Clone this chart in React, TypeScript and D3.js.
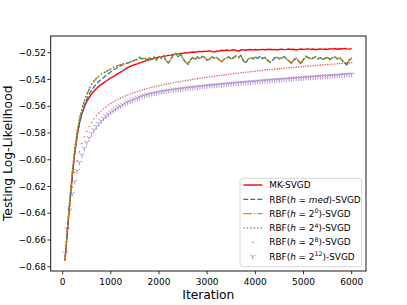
import React from "react";
import * as d3 from "d3";

// iteration grid (every 50 steps)
const iterations = d3.range(50, 6001, 50);

const mkSvgd = [
  -0.6755, -0.653, -0.632, -0.613, -0.595, -0.582, -0.5725, -0.5655, -0.5605, -0.5565,
  -0.5535, -0.5508, -0.5488, -0.5468, -0.5452, -0.5437, -0.5425, -0.5413, -0.540, -0.5388,
  -0.5378, -0.5368, -0.5357, -0.5345, -0.5335, -0.5322, -0.5312, -0.5303, -0.5295, -0.5288,
  -0.5284, -0.5276, -0.527, -0.5263, -0.5258, -0.5253, -0.5247, -0.5242, -0.5238, -0.5234,
  -0.5231, -0.5226, -0.5224, -0.522, -0.5218, -0.5213, -0.5211, -0.5209, -0.5206, -0.5205,
  -0.52, -0.5201, -0.5197, -0.5195, -0.5196, -0.5192, -0.519, -0.5193, -0.5188, -0.519,
  -0.5185, -0.5192, -0.5195, -0.5186, -0.5188, -0.5182, -0.5185, -0.518, -0.5183, -0.5181,
  -0.5178, -0.5182, -0.5189, -0.518, -0.5177, -0.5181, -0.5178, -0.5176, -0.5179, -0.5176,
  -0.518, -0.5177, -0.5175, -0.5178, -0.5176, -0.5174, -0.5178, -0.5175, -0.518, -0.5176,
  -0.5173, -0.5177, -0.5175, -0.5172, -0.5176, -0.5174, -0.5179, -0.5175, -0.5172, -0.5176,
  -0.5173, -0.5171, -0.5175, -0.5172, -0.5178, -0.5174, -0.5171, -0.5175, -0.5172, -0.5176,
  -0.517, -0.5173, -0.5169, -0.5174, -0.517, -0.5172, -0.5168, -0.5171, -0.5173, -0.517,
];

const rbfMed = [
  -0.675, -0.652, -0.631, -0.612, -0.595, -0.583, -0.573, -0.566, -0.56, -0.555,
  -0.551, -0.548, -0.5455, -0.5435, -0.5415, -0.54, -0.5385, -0.537, -0.5355, -0.5342,
  -0.533, -0.532, -0.531, -0.5298, -0.529, -0.5283, -0.5277, -0.527, -0.5262, -0.5255,
  -0.5248, -0.5236, -0.5247, -0.5238, -0.5257, -0.5236, -0.525, -0.523, -0.5254, -0.5228,
  -0.5242, -0.5223, -0.5264, -0.5277, -0.5243, -0.5213, -0.5203, -0.5232, -0.521, -0.5247,
  -0.5272, -0.5288, -0.5253, -0.5236, -0.5252, -0.523, -0.5247, -0.5226, -0.5234, -0.5257,
  -0.525, -0.523, -0.5242, -0.5234, -0.5254, -0.527, -0.5248, -0.5238, -0.523, -0.525,
  -0.5236, -0.5223, -0.5237, -0.522, -0.526, -0.5278, -0.5248, -0.5236, -0.5247, -0.523,
  -0.5242, -0.5228, -0.5244, -0.5234, -0.5257, -0.5272, -0.5264, -0.5238, -0.523, -0.5247,
  -0.5236, -0.5228, -0.525, -0.5264, -0.528, -0.5253, -0.524, -0.5267, -0.5283, -0.5248,
  -0.5226, -0.5237, -0.525, -0.5238, -0.523, -0.5247, -0.5236, -0.5252, -0.524, -0.5233,
  -0.525, -0.5238, -0.523, -0.5247, -0.5236, -0.5257, -0.5276, -0.5292, -0.5253, -0.5238,
];

const rbf2p0 = [
  -0.6755, -0.6515, -0.6295, -0.6095, -0.5925, -0.5795, -0.5695, -0.5625, -0.5565, -0.5515,
  -0.5475, -0.544, -0.5415, -0.5393, -0.5378, -0.5363, -0.5352, -0.5342, -0.5332, -0.5323,
  -0.5312, -0.5304, -0.5297, -0.529, -0.5285, -0.528, -0.5275, -0.527, -0.5262, -0.5255,
  -0.5252, -0.5238, -0.5243, -0.5242, -0.5253, -0.524, -0.5246, -0.5235, -0.525, -0.5232,
  -0.5238, -0.5228, -0.526, -0.5272, -0.5248, -0.5218, -0.5208, -0.5228, -0.5215, -0.5243,
  -0.5267, -0.5282, -0.5257, -0.524, -0.5248, -0.5235, -0.5243, -0.523, -0.5238, -0.5252,
  -0.5246, -0.5234, -0.5238, -0.5238, -0.525, -0.5265, -0.5252, -0.5242, -0.5234, -0.5246,
  -0.524, -0.5228, -0.5233, -0.5225, -0.5255, -0.5272, -0.5252, -0.524, -0.5243, -0.5234,
  -0.5238, -0.5232, -0.524, -0.5238, -0.5252, -0.5267, -0.526, -0.5242, -0.5234, -0.5243,
  -0.524, -0.5232, -0.5246, -0.526, -0.5275, -0.5257, -0.5244, -0.5262, -0.5277, -0.5252,
  -0.523, -0.5233, -0.5246, -0.5242, -0.5234, -0.5243, -0.524, -0.5248, -0.5244, -0.5237,
  -0.5246, -0.5242, -0.5234, -0.5243, -0.524, -0.5252, -0.527, -0.528, -0.5257, -0.5242,
];

const rbf2p4 = [
  -0.675, -0.651, -0.629, -0.609, -0.592, -0.579, -0.569, -0.562, -0.556, -0.551,
  -0.547, -0.5435, -0.541, -0.539, -0.5375, -0.536, -0.535, -0.534, -0.533, -0.5322,
  -0.531, -0.5303, -0.5297, -0.529, -0.5285, -0.528, -0.5276, -0.527, -0.5262, -0.5255,
  -0.525, -0.5235, -0.5245, -0.524, -0.5255, -0.5238, -0.5248, -0.5232, -0.5252, -0.523,
  -0.524, -0.5225, -0.5262, -0.5275, -0.5245, -0.5215, -0.5205, -0.523, -0.5212, -0.5245,
  -0.527, -0.5285, -0.5255, -0.5238, -0.525, -0.5232, -0.5245, -0.5228, -0.5236, -0.5255,
  -0.5248, -0.5232, -0.524, -0.5236, -0.5252, -0.5268, -0.525, -0.524, -0.5232, -0.5248,
  -0.5238, -0.5225, -0.5235, -0.5222, -0.5258, -0.5275, -0.525, -0.5238, -0.5245, -0.5232,
  -0.524, -0.523, -0.5242, -0.5236, -0.5255, -0.527, -0.5262, -0.524, -0.5232, -0.5245,
  -0.5238, -0.523, -0.5248, -0.5262, -0.5278, -0.5255, -0.5242, -0.5265, -0.528, -0.525,
  -0.5228, -0.5235, -0.5248, -0.524, -0.5232, -0.5245, -0.5238, -0.525, -0.5242, -0.5235,
  -0.5248, -0.524, -0.5232, -0.5245, -0.5238, -0.5255, -0.5272, -0.5285, -0.5255, -0.524,
];

const rbf2p8 = [
  -0.672, -0.6505, -0.634, -0.6205, -0.6095, -0.601, -0.594, -0.588, -0.583, -0.5788,
  -0.5752, -0.5721, -0.5694, -0.567, -0.5652, -0.5636, -0.5619, -0.5605, -0.5591, -0.5579,
  -0.5568, -0.5557, -0.5548, -0.5539, -0.5531, -0.5523, -0.5516, -0.5509, -0.5502, -0.5496,
  -0.549, -0.5484, -0.5479, -0.5474, -0.5469, -0.5464, -0.546, -0.5455, -0.5451, -0.5447,
  -0.5443, -0.5439, -0.5435, -0.5432, -0.5428, -0.5425, -0.5421, -0.5418, -0.5415, -0.5412,
  -0.5409, -0.5406, -0.5403, -0.54, -0.5397, -0.5394, -0.5391, -0.5389, -0.5386, -0.5383,
  -0.5381, -0.5378, -0.5375, -0.5373, -0.537, -0.5368, -0.5366, -0.5363, -0.5361, -0.5359,
  -0.5356, -0.5354, -0.5352, -0.535, -0.5348, -0.5346, -0.5344, -0.5342, -0.534, -0.5338,
  -0.5336, -0.5334, -0.5332, -0.533, -0.5328, -0.5326, -0.5325, -0.5323, -0.5321, -0.5319,
  -0.5318, -0.5316, -0.5314, -0.5313, -0.5311, -0.5309, -0.5308, -0.5306, -0.5305, -0.5303,
  -0.5302, -0.53, -0.5299, -0.5297, -0.5296, -0.5294, -0.5293, -0.5291, -0.529, -0.5288,
  -0.5287, -0.5286, -0.5284, -0.5283, -0.5281, -0.528, -0.5279, -0.5277, -0.5276, -0.5275,
];

const rbf2p12 = [
  -0.67, -0.652, -0.6375, -0.6253, -0.6163, -0.6083, -0.6021, -0.5966, -0.5914, -0.5872,
  -0.5836, -0.5804, -0.5776, -0.5751, -0.5729, -0.5709, -0.5691, -0.5674, -0.5659, -0.5645,
  -0.5632, -0.562, -0.5609, -0.5598, -0.5588, -0.5579, -0.557, -0.5562, -0.5554, -0.5547,
  -0.5539, -0.5532, -0.5526, -0.552, -0.5515, -0.551, -0.5506, -0.5502, -0.5498, -0.5495,
  -0.5492, -0.5489, -0.5486, -0.5483, -0.548, -0.5478, -0.5475, -0.5473, -0.547, -0.5468,
  -0.5466, -0.5464, -0.5462, -0.546, -0.5458, -0.5456, -0.5454, -0.5452, -0.545, -0.5448,
  -0.5446, -0.5445, -0.5443, -0.5441, -0.5439, -0.5438, -0.5436, -0.5434, -0.5433, -0.5431,
  -0.5429, -0.5428, -0.5426, -0.5425, -0.5423, -0.5422, -0.542, -0.5419, -0.5417, -0.5416,
  -0.5414, -0.5413, -0.5411, -0.541, -0.5408, -0.5407, -0.5405, -0.5404, -0.5403, -0.5401,
  -0.54, -0.5398, -0.5397, -0.5396, -0.5394, -0.5393, -0.5391, -0.539, -0.5389, -0.5387,
  -0.5386, -0.5385, -0.5383, -0.5382, -0.5381, -0.5379, -0.5378, -0.5377, -0.5375, -0.5374,
  -0.5373, -0.5371, -0.537, -0.5369, -0.5367, -0.5366, -0.5365, -0.5363, -0.5362, -0.5361,
];

const xTicks = [0, 1000, 2000, 3000, 4000, 5000, 6000];
const yTicks = [-0.68, -0.66, -0.64, -0.62, -0.6, -0.58, -0.56, -0.54, -0.52];

const FONT = "DejaVu Sans";
const W = 407;
const H = 305;
const left = 50.7, right = 366, top = 36, bottom = 271;

const triDown = (cx: number, cy: number, r: number) =>
  `M${cx},${cy}L${cx},${cy + r}M${cx},${cy}L${cx - r * 0.866},${cy - r * 0.5}M${cx},${cy}L${cx + r * 0.866},${cy - r * 0.5}`;

const fmt = (v: number) => v.toFixed(2).replace("-", "\u2212");

const Sup = ({ base, sup }: { base: string; sup: string }) => (
  <>
    <tspan>RBF(</tspan>
    <tspan fontStyle="italic">h</tspan>
    <tspan> = {base}</tspan>
    <tspan dy={-3.6} fontSize={6.3}>{sup}</tspan>
    <tspan dy={3.6}>)-SVGD</tspan>
  </>
);

export default function App() {
  const x = d3.scaleLinear().domain([-247.5, 6297.5]).range([left, right]);
  const y = d3.scaleLinear().domain([-0.6832, -0.5075]).range([bottom, top]);

  const line = (vals: number[]) =>
    d3.line<number>().x((_, i) => x(iterations[i])).y((v) => y(v))(vals) || "";

  const purpleMarks = rbf2p12.map((v, i) => triDown(x(iterations[i]), y(v), 3)).join("");

  const lx0 = 243.3, lx1 = 262.3, ltx = 269.3;
  const rows = [185, 199.3, 213.6, 227.9, 242.2, 256.5];

  return (
    <svg width={W} height={H} style={{ position: "absolute", left: 0, top: 0 }} fontFamily={FONT}>
      <rect width={W} height={H} fill="white" />

      {/* series */}
      <path d={line(mkSvgd)} fill="none" stroke="#ff0000" strokeWidth={1.4} />
      <path d={line(rbfMed)} fill="none" stroke="#1f77b4" strokeWidth={1.3} strokeDasharray="4.9,2.1" />
      <path d={line(rbf2p0)} fill="none" stroke="#ff7f0e" strokeWidth={1.3} strokeDasharray="8.5,2.1,1.3,2.1" />
      <path d={line(rbf2p4)} fill="none" stroke="#2ca02c" strokeWidth={1.3} strokeDasharray="1.3,2.2" />
      {rbf2p8.map((v, i) => (
        <circle key={i} cx={x(iterations[i])} cy={y(v)} r={0.8} fill="#d62728" opacity={0.7} />
      ))}
      <path d={purpleMarks} fill="none" stroke="#9467bd" strokeWidth={0.9} opacity={0.75} />

      {/* frame */}
      <rect x={left} y={top} width={right - left} height={bottom - top} fill="none" stroke="black" strokeWidth={0.9} />

      {/* x axis */}
      {xTicks.map((t) => (
        <g key={t}>
          <line x1={x(t)} x2={x(t)} y1={bottom} y2={bottom + 3.3} stroke="black" strokeWidth={0.8} />
          <text x={x(t)} y={285} fontSize={9} textAnchor="middle">{t}</text>
        </g>
      ))}
      <text x={(left + right) / 2} y={299} fontSize={12.3} textAnchor="middle">Iteration</text>

      {/* y axis */}
      {yTicks.map((t) => (
        <g key={t}>
          <line x1={left - 3.3} x2={left} y1={y(t)} y2={y(t)} stroke="black" strokeWidth={0.8} />
          <text x={46} y={y(t) + 3.2} fontSize={9} textAnchor="end">{fmt(t)}</text>
        </g>
      ))}
      <text transform={`translate(12,153.3) rotate(-90)`} fontSize={12.3} textAnchor="middle">
        Testing Log-Likelihood
      </text>

      {/* legend */}
      <rect x={240} y={178.3} width={121.7} height={88.4} rx={2.5} fill="white" fillOpacity={0.8} stroke="#cccccc" strokeWidth={0.8} />
      <line x1={lx0} x2={lx1} y1={rows[0]} y2={rows[0]} stroke="#ff0000" strokeWidth={1.4} />
      <line x1={lx0} x2={lx1} y1={rows[1]} y2={rows[1]} stroke="#1f77b4" strokeWidth={1.3} strokeDasharray="4.9,2.1" />
      <line x1={lx0} x2={lx1} y1={rows[2]} y2={rows[2]} stroke="#ff7f0e" strokeWidth={1.3} strokeDasharray="8.5,2.1,1.3,2.1" />
      <line x1={lx0} x2={lx1} y1={rows[3]} y2={rows[3]} stroke="#2ca02c" strokeWidth={1.3} strokeDasharray="1.3,2.2" />
      <circle cx={(lx0 + lx1) / 2} cy={rows[4]} r={0.8} fill="#d62728" opacity={0.7} />
      <path d={triDown((lx0 + lx1) / 2, rows[5], 3)} fill="none" stroke="#9467bd" strokeWidth={0.9} opacity={0.75} />

      <g fontSize={8.9}>
        <text x={ltx} y={rows[0] + 3.2}>MK-SVGD</text>
        <text x={ltx} y={rows[1] + 3.2}>
          <tspan>RBF(</tspan>
          <tspan fontStyle="italic">h</tspan>
          <tspan> = </tspan>
          <tspan fontStyle="italic">med</tspan>
          <tspan>)-SVGD</tspan>
        </text>
        <text x={ltx} y={rows[2] + 3.2}><Sup base="2" sup="0" /></text>
        <text x={ltx} y={rows[3] + 3.2}><Sup base="2" sup="4" /></text>
        <text x={ltx} y={rows[4] + 3.2}><Sup base="2" sup="8" /></text>
        <text x={ltx} y={rows[5] + 3.2}><Sup base="2" sup="12" /></text>
      </g>
    </svg>
  );
}
